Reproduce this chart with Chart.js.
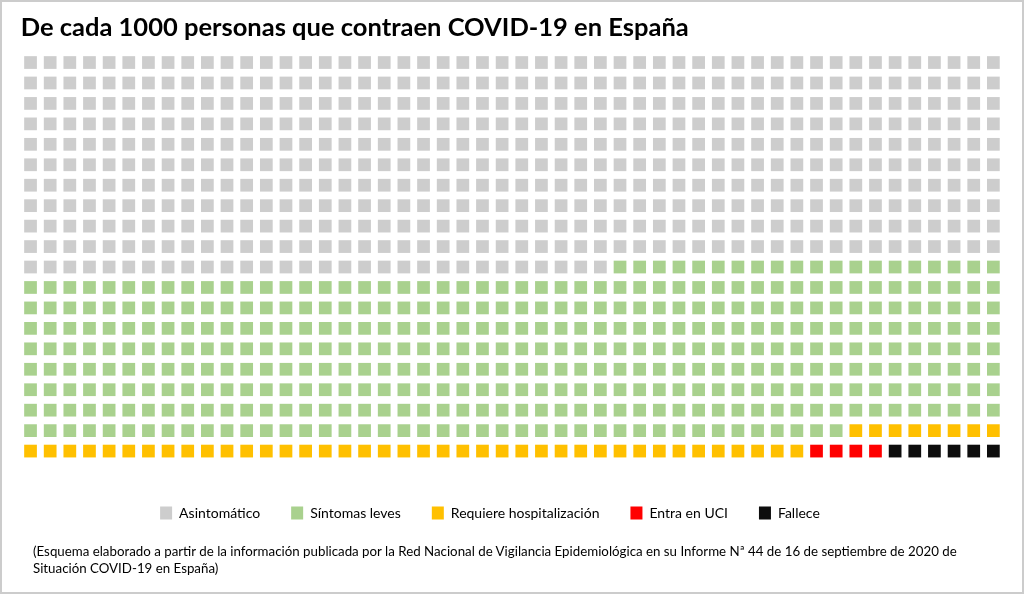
<!DOCTYPE html>
<html lang="es">
<head>
  <meta charset="UTF-8" />
  <title>De cada 1000 personas que contraen COVID-19 en España</title>
  <script src="https://cdn.jsdelivr.net/npm/chart.js"></script>
  <style>
    html, body { margin: 0; padding: 0; background: #fff; }
    .wrap { position: relative; width: 1024px; height: 594px; overflow: hidden; }
    .frame {
      position: absolute; left: 0; top: 0; width: 1024px; height: 594px;
      box-sizing: border-box; border: 2px solid #cccccc; pointer-events: none;
    }
    .nota {
      position: absolute; left: 33px; top: 543px;
      font-family: Lato, "Open Sans", sans-serif; font-size: 13.3px; line-height: 17px;
      color: #000; white-space: nowrap;
    }
  </style>
</head>
<body>
  <div class="wrap">
    <canvas id="waffle" width="1024" height="594"></canvas>
    <div class="nota">(Esquema elaborado a partir de la información publicada por la Red Nacional de Vigilancia Epidemiológica en su Informe Nª 44 de 16 de septiembre de 2020 de<br>Situación COVID-19 en España)</div>
    <div class="frame"></div>
  </div>

  <script>
    // categorías y cuántas personas de cada 1000 caen en cada una
    const categories = ['Asintomático', 'Síntomas leves', 'Requiere hospitalización', 'Entra en UCI', 'Fallece'];
    const counts = [530, 412, 48, 4, 6];
    const colors = ['#cdcdcd', '#a9d18e', '#ffc000', '#ff0000', '#0d0d0d'];
    const columns = 50;
    const rows = 20;

    // se rellena fila a fila, de izquierda a derecha, empezando arriba
    let k = 0;
    const datasets = categories.map((name, i) => {
      const pts = [];
      for (let n = 0; n < counts[i]; n++) {
        pts.push({ x: k % columns, y: Math.floor(k / columns) });
        k++;
      }
      return {
        label: name,
        data: pts,
        backgroundColor: colors[i],
        borderWidth: 0,
        pointStyle: 'rect',
        pointRadius: 9,
        pointHoverRadius: 9,
        clip: false
      };
    });

    // la leyenda del original está un poco desplazada a la izquierda
    const legendShift = {
      id: 'legendShift',
      afterLayout(chart) {
        chart.legend.left -= 22;
        chart.legend.right -= 22;
      }
    };

    const ctx = document.getElementById('waffle').getContext('2d');
    new Chart(ctx, {
      type: 'scatter',
      data: { datasets: datasets },
      plugins: [legendShift],
      options: {
        responsive: false,
        animation: false,
        events: [],
        layout: { padding: { left: 20.7, right: 20.8, top: 0, bottom: 64 } },
        scales: {
          x: { display: false, min: -0.5, max: columns - 0.5 },
          y: { display: false, reverse: true, min: -0.5, max: rows + 0.17 }
        },
        plugins: {
          tooltip: { enabled: false },
          title: {
            display: true,
            text: 'De cada 1000 personas que contraen COVID-19 en España',
            align: 'start',
            color: '#000',
            font: { family: 'Lato, "Open Sans", sans-serif', size: 25.5, weight: 'bold', lineHeight: 1.2 },
            padding: { top: 12, bottom: 9.7 }
          },
          legend: {
            position: 'bottom',
            labels: {
              color: '#000',
              boxWidth: 12,
              boxHeight: 13,
              padding: 31,
              font: { family: 'Lato, "Open Sans", sans-serif', size: 14 }
            }
          }
        }
      }
    });
  </script>
</body>
</html>
